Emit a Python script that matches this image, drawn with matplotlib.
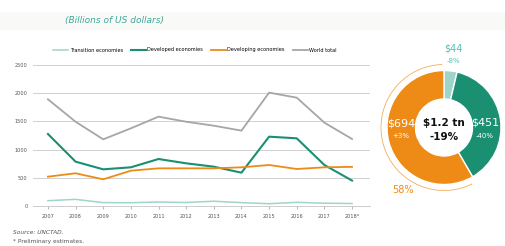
import matplotlib.pyplot as plt
import matplotlib.patches as mpatches
import numpy as np

# data (billions of US dollars)
years = ['2007', '2008', '2009', '2010', '2011', '2012', '2013', '2014',
         '2015', '2016', '2017', '2018*']
transition = [94, 118, 60, 58, 71, 62, 85, 60, 40, 65, 50, 44]
developed = [1277, 786, 650, 686, 833, 757, 697, 591, 1229, 1200, 727, 451]
developing = [520, 580, 473, 626, 668, 668, 668, 686, 727, 656, 686, 694]
world = [1892, 1494, 1182, 1377, 1584, 1494, 1424, 1336, 2010, 1921, 1478, 1188]

donut_values = [44, 451, 694]
donut_amounts = ['$44', '$451', '$694']
donut_changes = ['-8%', '-40%', '+3%']

c_trans = '#9fd4ca'
c_dev = '#1b8f72'
c_dvg = '#ee8b17'
c_world = '#a6a6a6'

fig = plt.figure(figsize=(5.06, 2.46), dpi=100)

# faint band behind the subtitle
fig.patches.append(mpatches.Rectangle((0, 1 - 30 / 246), 1, 18 / 246,
                                      transform=fig.transFigure,
                                      facecolor='#f9f9f7', edgecolor='none', zorder=0))
fig.text(0.128, 1 - 20 / 246, '(Billions of US dollars)', fontsize=6.5,
         style='italic', color='#3fa999', va='center')

# line chart
ax = fig.add_axes([33 / 506, 1 - 206 / 246, 337 / 506, 141 / 246])
x = np.arange(len(years))
ax.plot(x, transition, color=c_trans, lw=1.1, label='Transition economies')
ax.plot(x, developed, color=c_dev, lw=1.5, label='Developed economies')
ax.plot(x, developing, color=c_dvg, lw=1.3, label='Developing economies')
ax.plot(x, world, color=c_world, lw=1.3, label='World total')

ax.set_xlim(-0.54, len(years) - 1 + 0.65)
ax.set_ylim(0, 2500)
ax.set_yticks(range(0, 2501, 500))
ax.set_yticklabels([str(v) for v in range(0, 2501, 500)])
ax.set_xticks(x)
ax.set_xticklabels(years)
ax.tick_params(axis='both', labelsize=3.6, colors='#555555', length=0, pad=4)
ax.tick_params(axis='x', length=2, color='#bbbbbb', direction='out')
ax.grid(axis='y', color='#d0d0d0', lw=0.7)
ax.set_axisbelow(True)
for s in ['top', 'right', 'left']:
    ax.spines[s].set_visible(False)
ax.spines['bottom'].set_color('#cccccc')
ax.spines['bottom'].set_linewidth(0.7)

fig.legend(loc='center', bbox_to_anchor=(195 / 506, 1 - 50 / 246), ncol=4,
           frameon=False, fontsize=3.6, handlelength=3, columnspacing=1.6,
           handletextpad=0.3)

# donut
cx, cy, r = 444, 127.5, 57
dax = fig.add_axes([(cx - 70) / 506, 1 - (cy + 70) / 246, 140 / 506, 140 / 246])
wedges, _ = dax.pie(donut_values, colors=[c_trans, c_dev, c_dvg], startangle=90,
                    counterclock=False, radius=r,
                    wedgeprops=dict(width=r * 0.5, edgecolor='white', linewidth=1.0))
dax.set_xlim(-70, 70)
dax.set_ylim(-70, 70)
dax.set_aspect('equal')
dax.axis('off')

# outline arc around developing slice
total = sum(donut_values)
a_end = 90 - 360 * (donut_values[0] + donut_values[1]) / total
theta = np.radians(np.linspace(a_end - 4, -268, 200))
dax.plot(63 * np.cos(theta), 63 * np.sin(theta), color=c_dvg, lw=0.6, alpha=0.7)

dax.text(0, 4, '$1.2 tn', ha='center', va='center', fontsize=7.5,
         fontweight='bold', color='#111111')
dax.text(0, -9, '-19%', ha='center', va='center', fontsize=7.5,
         fontweight='bold', color='#111111')
dax.text(9, 79, donut_amounts[0], ha='center', va='center', fontsize=7,
         color='#5cbfb0')
dax.text(9, 67, donut_changes[0], ha='center', va='center', fontsize=5,
         color='#5cbfb0')
dax.text(41, 5, donut_amounts[1], ha='center', va='center', fontsize=8,
         color='white')
dax.text(41, -8, donut_changes[1], ha='center', va='center', fontsize=5,
         color='white')
dax.text(-43, 4, donut_amounts[2], ha='center', va='center', fontsize=8,
         color='white')
dax.text(-43, -9, donut_changes[2], ha='center', va='center', fontsize=5,
         color='white')
dax.text(-41, -63, '58%', ha='center', va='center', fontsize=7, color=c_dvg)

# source notes
fig.text(13 / 506, 1 - 232 / 246, 'Source: UNCTAD.', fontsize=4.2,
         color='#555555', va='center', style='italic')
fig.text(13 / 506, 1 - 241 / 246, '* Preliminary estimates.', fontsize=4.2,
         color='#555555', va='center')

fig.savefig('out.png', dpi=100)
